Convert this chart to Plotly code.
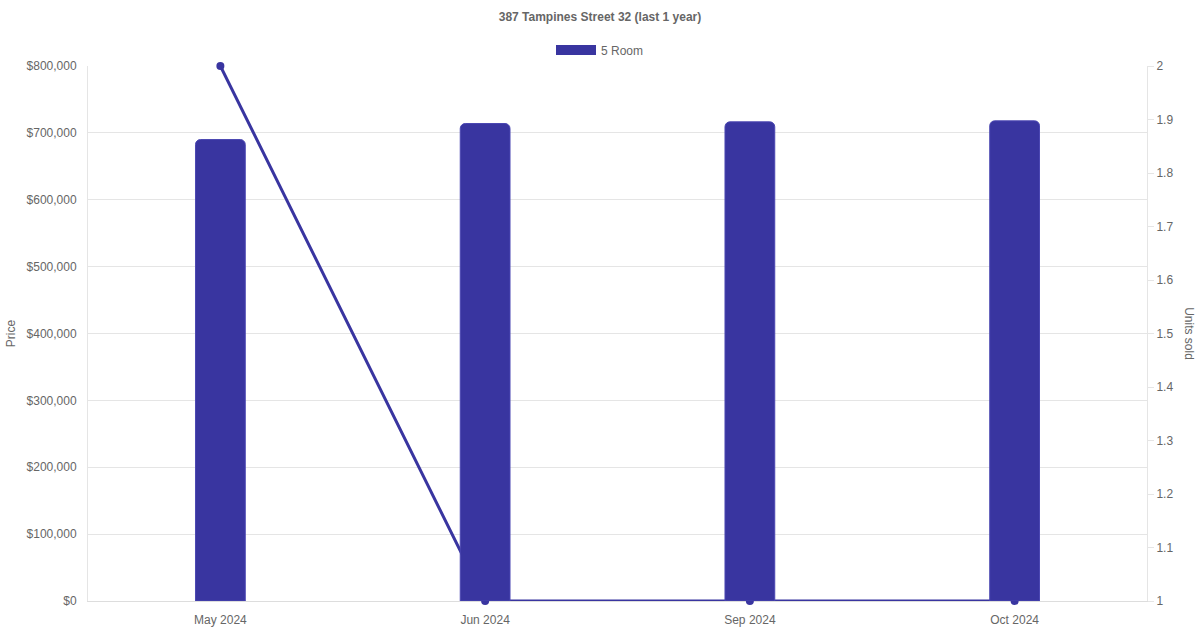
import plotly.graph_objects as go

months = ["May 2024", "Jun 2024", "Sep 2024", "Oct 2024"]
price = [690000, 714000, 716500, 718000]
units_sold = [2, 1, 1, 1]
series_name = "5 Room"
title = "387 Tampines Street 32 (last 1 year)"

color = "rgb(57,53,160)"
grey = "#666666"

fig = go.Figure()

# units sold line (right axis), drawn under the bars like the original
fig.add_trace(go.Scatter(
    x=months, y=units_sold,
    mode="lines+markers",
    line=dict(color=color, width=3),
    marker=dict(color=color, size=8),
    yaxis="y",
    cliponaxis=False,
    showlegend=False,
    name="Units sold",
))

# price bars (left axis)
fig.add_trace(go.Bar(
    x=months, y=price,
    width=0.188,
    marker_color=color,
    marker_line_color="rgb(75,71,178)",
    marker_line_width=1,
    marker_cornerradius=5,
    yaxis="y2",
    showlegend=False,
    name=series_name,
))

# legend swatch only
fig.add_trace(go.Scatter(
    x=[None], y=[None],
    mode="lines",
    line=dict(color=color, width=12),
    name=series_name,
    showlegend=True,
))

fig.update_layout(
    width=1200, height=630,
    paper_bgcolor="white",
    plot_bgcolor="white",
    font=dict(family="Liberation Sans, Arial", size=12, color=grey),
    margin=dict(l=88, r=53, t=66, b=29),
    title=dict(text="<b>" + title + "</b>", x=0.5, xref="container",
               y=1 - 17 / 630, yref="container", yanchor="middle",
               font=dict(size=12, color=grey), automargin=False),
    legend=dict(orientation="h", x=0.5, xref="container", xanchor="center",
                y=1 - 50 / 630, yref="container", yanchor="middle",
                font=dict(size=12, color=grey), itemwidth=40),
    xaxis=dict(showgrid=False, showline=True, linecolor="#dddddd",
               ticks="outside", ticklen=8, tickcolor="rgba(0,0,0,0)",
               tickfont=dict(size=12, color=grey), automargin=False,
               layer="below traces"),
    yaxis=dict(side="right", range=[1, 2], dtick=0.1, showgrid=False,
               zeroline=False, showline=True, linecolor="#e5e5e5",
               ticks="outside", ticklen=6, tickcolor="#e5e5e5",
               tickfont=dict(size=12, color=grey), automargin=False,
               layer="below traces"),
    yaxis2=dict(side="left", overlaying="y", range=[0, 800000], dtick=100000,
                tickprefix="$", tickformat=",.0f", showgrid=True,
                gridcolor="#e5e5e5", zeroline=False, showline=True,
                linecolor="#e5e5e5", ticks="outside", ticklen=8,
                tickcolor="rgba(0,0,0,0)", tickfont=dict(size=12, color=grey),
                title=dict(text="Price", standoff=8, font=dict(size=12, color=grey)),
                automargin=False, layer="below traces"),
    annotations=[dict(text="Units sold", textangle=90, xref="paper", yref="paper",
                      x=1.04, y=0.5, xanchor="center", yanchor="middle",
                      showarrow=False, font=dict(size=12, color=grey))],
)

fig.write_html("out.html", config={"displayModeBar": False},
               post_script="document.body.style.margin='0';")
